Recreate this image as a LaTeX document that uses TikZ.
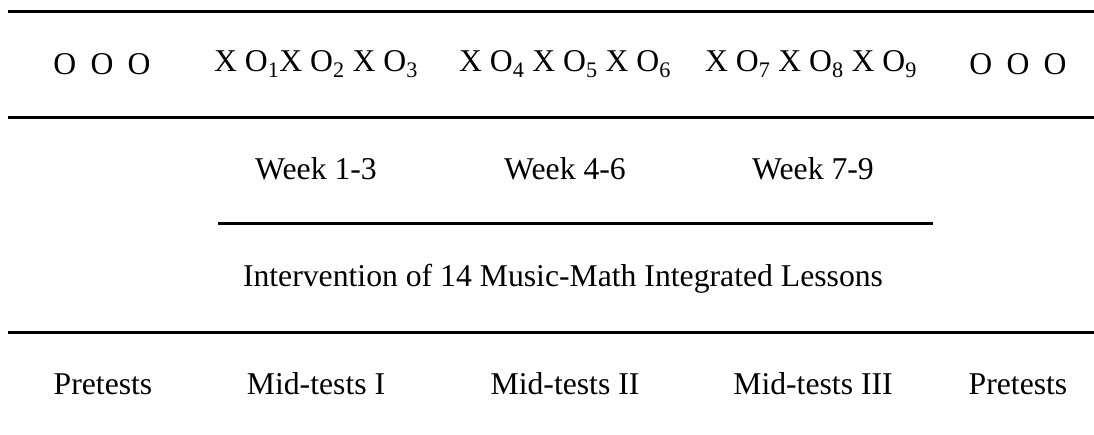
\documentclass[tikz,border=0pt]{standalone}
\usepackage{fontspec}
\setmainfont{Liberation Serif}
\begin{document}
\begin{tikzpicture}[x=1pt,y=-1pt,
  rule/.style={line width=3pt},
  lbl/.style={inner sep=0pt,anchor=center,font=\fontsize{31.7}{36}\selectfont}]
\useasboundingbox (0,0) rectangle (1094,435);
\draw[rule] (8,12) -- (1094,12);
\draw[rule] (8,118) -- (1094,118);
\draw[rule] (218,224) -- (933,224);
\draw[rule] (8,332) -- (1094,332);
\node[lbl] (o1) at (102,64) {O\hspace{0.45em}O\hspace{0.45em}O};
\node[lbl] (g1) at (316,64) {X O\textsubscript{1}X O\textsubscript{2} X O\textsubscript{3}};
\node[lbl] (g2) at (565,64) {X O\textsubscript{4} X O\textsubscript{5} X O\textsubscript{6}};
\node[lbl] (g3) at (811,64) {X O\textsubscript{7} X O\textsubscript{8} X O\textsubscript{9}};
\node[lbl] (o2) at (1018,64) {O\hspace{0.45em}O\hspace{0.45em}O};
\node[lbl] (w1) at (316,169) {Week 1-3};
\node[lbl] (w2) at (565,169) {Week 4-6};
\node[lbl] (w3) at (813,169) {Week 7-9};
\node[lbl] (iv) at (563,279) {Intervention of 14 Music-Math Integrated Lessons};
\node[lbl] (p1) at (103,384) {Pretests};
\node[lbl] (m1) at (316,384) {Mid-tests I};
\node[lbl] (m2) at (565,384) {Mid-tests II};
\node[lbl] (m3) at (813,384) {Mid-tests III};
\node[lbl] (p2) at (1018,384) {Pretests};
\end{tikzpicture}
\end{document}
